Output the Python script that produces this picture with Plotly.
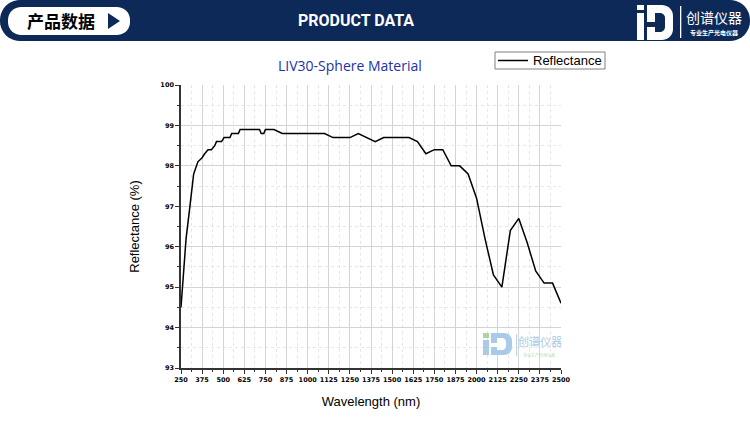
import math
import plotly.graph_objects as go

# reflectance curve
wavelength = [250, 265, 280, 300, 325, 350, 375, 390, 410, 430, 450, 460, 490, 505,
              540, 550, 590, 600, 715, 725, 740, 750, 800, 850, 1100, 1150, 1250,
              1300, 1400, 1450, 1600, 1650, 1700, 1750, 1800, 1850, 1900, 1950,
              2000, 2050, 2100, 2150, 2200, 2250, 2300, 2350, 2400, 2450, 2500]
reflectance = [94.5, 95.4, 96.2, 96.9, 97.8, 98.1, 98.2, 98.3, 98.4, 98.4, 98.5, 98.6,
               98.6, 98.7, 98.7, 98.8, 98.8, 98.9, 98.9, 98.8, 98.8, 98.9, 98.9, 98.8,
               98.8, 98.7, 98.7, 98.8, 98.6, 98.7, 98.7, 98.6, 98.3, 98.4, 98.4, 98.0,
               98.0, 97.8, 97.2, 96.2, 95.3, 95.0, 96.4, 96.7, 96.1, 95.4, 95.1, 95.1,
               94.6]
x_ticks = list(range(250, 2501, 125))
y_ticks = [93, 94, 95, 96, 97, 98, 99, 100]

W, H = 750, 425
L, R, T, B = 181, 561, 85, 368
NAVY = "#0c2957"


def px(x):
    return (x - L) / (R - L)


def py(y):
    return (B - y) / (B - T)


def rect(x0, y0, x1, y1, color, line=None):
    s = dict(type="rect", xref="paper", yref="paper", x0=px(x0), x1=px(x1),
             y0=py(y1), y1=py(y0), fillcolor=color, layer="above",
             line=dict(color=line or color, width=1 if line else 0))
    return s


def path(points, color):
    d = "M " + " L ".join(f"{px(a):.4f},{py(b):.4f}" for a, b in points) + " Z"
    return dict(type="path", xref="paper", yref="paper", path=d,
                fillcolor=color, line_width=0, layer="above")


def rounded(x0, y0, x1, y1, r, color):
    pts = []
    for cx, cy, a0 in [(x1 - r, y0 + r, -90), (x1 - r, y1 - r, 0),
                       (x0 + r, y1 - r, 90), (x0 + r, y0 + r, 180)]:
        for k in range(11):
            a = math.radians(a0 + 9 * k)
            pts.append((cx + r * math.cos(a), cy + r * math.sin(a)))
    return path(pts, color)


def d_shape(x0, y0, x1, y1, r):
    pts = [(x0, y0), (x1 - r, y0)]
    for k in range(1, 10):
        a = math.radians(-90 + 10 * k)
        pts.append((x1 - r + r * math.cos(a), y0 + r + r * math.sin(a)))
    pts.append((x1, y1 - r))
    for k in range(1, 10):
        a = math.radians(10 * k)
        pts.append((x1 - r + r * math.cos(a), y1 - r + r * math.sin(a)))
    pts.append((x0, y1))
    return pts


fig = go.Figure()
fig.add_trace(go.Scatter(x=wavelength, y=reflectance, mode="lines", name="Reflectance",
                         line=dict(color="black", width=1.5), showlegend=False))

shapes = []
# header banner
shapes.append(rounded(0, 0, 750, 41, 20, NAVY))
shapes.append(rounded(8, 7, 130, 35, 13, "white"))
shapes.append(path([(108, 13), (108, 29), (120, 21)], NAVY))
# header logo
shapes.append(rect(637, 5, 644, 10, "white"))
shapes.append(rect(637, 13, 644, 40, "white"))
shapes.append(path(d_shape(647, 5, 673, 40, 11), "white"))
shapes.append(path(d_shape(655, 13, 665, 32, 5), NAVY))
shapes.append(rect(647, 22, 656, 27, NAVY))
shapes.append(rect(680, 6, 681.3, 38, "white"))
# watermark logo
shapes.append(rect(483, 333, 489, 338, "#a8d8a0"))
shapes.append(rect(483, 340, 489, 355, "#a9cbe8"))
shapes.append(path(d_shape(491, 333, 512, 355, 8), "#a9cbe8"))
shapes.append(path(d_shape(497, 338, 506, 350, 4), "white"))
shapes.append(rect(491, 343, 498, 347, "white"))
shapes.append(rect(516, 334, 516.8, 356, "#a9cbe8"))
# legend box
shapes.append(rect(495, 52, 605, 69, "white", line="#808080"))
shapes.append(dict(type="line", xref="paper", yref="paper", x0=px(498), x1=px(528),
                   y0=py(60.5), y1=py(60.5), line=dict(color="black", width=1.5),
                   layer="above"))

ann = [
    dict(text="<b>产品数据</b>", x=px(61), y=py(21), font=dict(size=17, color="black",
         family="Noto Sans CJK SC")),
    dict(text="<b>PRODUCT DATA</b>", x=px(356), y=py(21), font=dict(size=16, color="white",
         family="Roboto")),
    dict(text="创谱仪器", x=px(714), y=py(17), font=dict(size=14, color="white",
         family="Noto Sans CJK SC")),
    dict(text="<b>专业生产光电仪器</b>", x=px(714), y=py(32), font=dict(size=6, color="white",
         family="Noto Sans CJK SC")),
    dict(text="LIV30-Sphere Material", x=px(350), y=py(66), font=dict(size=14, color="#2132a8",
         family="Open Sans")),
    dict(text="创谱仪器", x=px(540), y=py(341), font=dict(size=11, color="#a9cbe8",
         family="Noto Sans CJK SC")),
    dict(text="专业生产光电仪器", x=px(539), y=py(355), font=dict(size=4, color="#b8dcb0",
         family="Noto Sans CJK SC")),
    dict(text="Reflectance", x=px(531), y=py(60.5), xanchor="left",
         font=dict(size=13, color="black", family="Liberation Sans")),
]
for a in ann:
    a.setdefault("xanchor", "center")
    a.update(xref="paper", yref="paper", showarrow=False, yanchor="middle")

axis_common = dict(showline=True, linecolor="#333333", linewidth=1.5, ticks="outside",
                   ticklen=4, tickcolor="#333333", tickwidth=1, showgrid=True,
                   gridcolor="#d4d4d4", gridwidth=1, zeroline=False, mirror=False,
                   tickfont=dict(size=6.5, family="DejaVu Sans", color="black", weight="bold"),
                   title_font=dict(size=13, family="Liberation Sans", color="black"))

fig.update_layout(
    width=W, height=H,
    margin=dict(l=L, r=W - R, t=T, b=H - B),
    paper_bgcolor="white", plot_bgcolor="white",
    shapes=shapes, annotations=ann,
    showlegend=False,
    xaxis=dict(range=[250, 2500], tickvals=x_ticks, tickangle=0,
               title=dict(text="Wavelength (nm)", standoff=14),
               minor=dict(dtick=62.5, tick0=250, ticks="outside", ticklen=2, showgrid=True,
                          gridcolor="#e6e6e6", griddash="dot", tickcolor="#333333"),
               **axis_common),
    yaxis=dict(range=[93, 100], tickvals=y_ticks,
               title=dict(text="Reflectance (%)", standoff=18),
               minor=dict(dtick=0.5, tick0=93, ticks="outside", ticklen=2, showgrid=True,
                          gridcolor="#e6e6e6", griddash="dot", tickcolor="#333333"),
               **axis_common),
)

fig.write_html("out.html", config={"displayModeBar": False},
               post_script="document.body.style.margin='0';")
